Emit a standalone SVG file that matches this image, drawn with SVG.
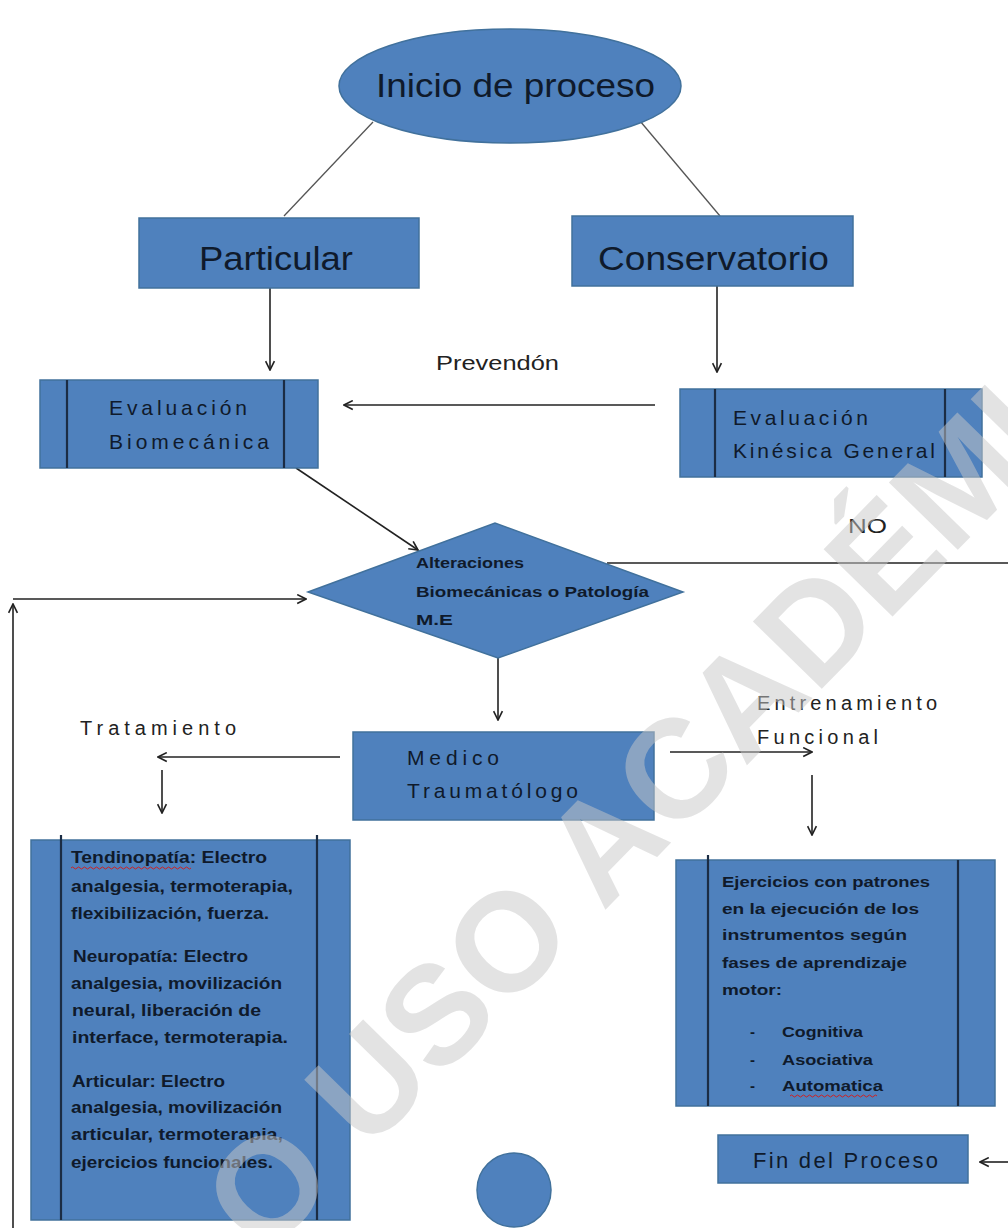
<svg xmlns="http://www.w3.org/2000/svg" width="1008" height="1228" viewBox="0 0 1008 1228">
<defs>
<style>
.node{fill:#4f81bd;stroke:#41719c;stroke-width:1.5}
.bar{stroke:#1b2c44;stroke-width:2.2}
.t{font-family:"Liberation Sans",Arial,sans-serif;fill:#0f1a2b}
.big{font-size:34px}
.mid{font-size:21px}
.lbl{font-family:"Liberation Sans",Arial,sans-serif;fill:#222;font-size:20px}
.body{font-family:"Liberation Sans",Arial,sans-serif;fill:#0f1a2b;font-size:16px;font-weight:bold}
.con{fill:none;stroke:#222;stroke-width:1.6}
.thin{fill:none;stroke:#555;stroke-width:1.3}
.sq{fill:none;stroke:#d02020;stroke-width:1}
.wm{font-family:"Liberation Sans",Arial,sans-serif;font-weight:bold;font-size:140px;fill:#c8c8c8;opacity:0.5}
</style>
<marker id="arr" viewBox="0 0 10 10" refX="9" refY="5" markerWidth="11" markerHeight="11" markerUnits="userSpaceOnUse" orient="auto">
<path d="M1,1 L9,5 L1,9" fill="none" stroke="#222" stroke-width="1.5"/>
</marker>
</defs>
<rect width="1008" height="1228" fill="#ffffff"/>

<g id="connectors">
<line class="thin" x1="373" y1="122" x2="284" y2="216"/>
<line class="thin" x1="640" y1="121" x2="720" y2="216"/>
<line class="con" x1="270" y1="288" x2="270" y2="370" marker-end="url(#arr)"/>
<line class="con" x1="717" y1="286" x2="717" y2="372" marker-end="url(#arr)"/>
<line class="con" x1="655" y1="405" x2="344" y2="405" marker-end="url(#arr)"/>
<line class="con" x1="296" y1="468" x2="418" y2="550" marker-end="url(#arr)"/>
<line class="con" x1="607" y1="563" x2="1008" y2="563"/>
<line class="con" x1="13" y1="1228" x2="13" y2="604" marker-end="url(#arr)"/>
<line class="con" x1="13" y1="599" x2="306" y2="599" marker-end="url(#arr)"/>
<line class="con" x1="498" y1="658" x2="498" y2="720" marker-end="url(#arr)"/>
<line class="con" x1="340" y1="757" x2="158" y2="757" marker-end="url(#arr)"/>
<line class="con" x1="162" y1="770" x2="162" y2="813" marker-end="url(#arr)"/>
<line class="con" x1="670" y1="752" x2="812" y2="752" marker-end="url(#arr)"/>
<line class="con" x1="812" y1="775" x2="812" y2="835" marker-end="url(#arr)"/>
<line class="con" x1="1008" y1="1162" x2="980" y2="1162" marker-end="url(#arr)"/>
<text class="lbl" x="436" y="370" textLength="123" lengthAdjust="spacingAndGlyphs">Prevendón</text>
<text class="lbl" x="848" y="533" textLength="39" lengthAdjust="spacingAndGlyphs">NO</text>
<text class="lbl" x="80" y="735" textLength="156" lengthAdjust="spacing">Tratamiento</text>
<text class="lbl" x="757" y="710" textLength="180" lengthAdjust="spacing">Entrenamiento</text>
<text class="lbl" x="757" y="744" textLength="121" lengthAdjust="spacing">Funcional</text>
</g>

<g id="inicio">
<ellipse class="node" cx="510" cy="86" rx="171" ry="57"/>
<text class="t big" x="376" y="97" textLength="279" lengthAdjust="spacingAndGlyphs">Inicio de proceso</text>
</g>

<g id="particular">
<rect class="node" x="139" y="218" width="280" height="70"/>
<text class="t big" x="199" y="270" textLength="154" lengthAdjust="spacingAndGlyphs">Particular</text>
</g>

<g id="conservatorio">
<rect class="node" x="572" y="216" width="281" height="70"/>
<text class="t big" x="598" y="270" textLength="231" lengthAdjust="spacingAndGlyphs">Conservatorio</text>
</g>

<g id="eval-biomecanica">
<rect class="node" x="40" y="380" width="278" height="88"/>
<line class="bar" x1="67" y1="380" x2="67" y2="468"/>
<line class="bar" x1="284" y1="380" x2="284" y2="468"/>
<text class="t mid" x="109" y="415" textLength="138" lengthAdjust="spacing">Evaluación</text>
<text class="t mid" x="109" y="449" textLength="160" lengthAdjust="spacing">Biomecánica</text>
</g>

<g id="eval-kinesica">
<rect class="node" x="680" y="389" width="302" height="88"/>
<line class="bar" x1="715" y1="389" x2="715" y2="477"/>
<line class="bar" x1="945" y1="389" x2="945" y2="477"/>
<text class="t mid" x="733" y="425" textLength="135" lengthAdjust="spacing">Evaluación</text>
<text class="t mid" x="733" y="458" textLength="202" lengthAdjust="spacing">Kinésica General</text>
</g>

<g id="decision">
<polygon class="node" points="308,592 495,523 683,592 498,658"/>
<text class="body" style="font-size:14px" x="416" y="568" textLength="108" lengthAdjust="spacingAndGlyphs">Alteraciones</text>
<text class="body" style="font-size:14px" x="416" y="597" textLength="233" lengthAdjust="spacingAndGlyphs">Biomecánicas  o Patología</text>
<text class="body" style="font-size:14px" x="416" y="625" textLength="37" lengthAdjust="spacingAndGlyphs">M.E</text>
</g>

<g id="medico">
<rect class="node" x="353" y="732" width="301" height="88"/>
<text class="t mid" x="407" y="765" textLength="92" lengthAdjust="spacing">Medico</text>
<text class="t mid" x="407" y="798" textLength="171" lengthAdjust="spacing">Traumatólogo</text>
</g>

<g id="tratamiento">
<rect class="node" x="31" y="840" width="319" height="380"/>
<line class="bar" x1="61" y1="835" x2="61" y2="1220"/>
<line class="bar" x1="317" y1="835" x2="317" y2="1220"/>
<text class="body" x="71" y="863" textLength="196" lengthAdjust="spacingAndGlyphs">Tendinopatía: Electro</text>
<text class="body" x="71" y="892" textLength="222" lengthAdjust="spacingAndGlyphs">analgesia, termoterapia,</text>
<text class="body" x="71" y="919" textLength="198" lengthAdjust="spacingAndGlyphs">flexibilización, fuerza.</text>
<text class="body" x="73" y="962" textLength="175" lengthAdjust="spacingAndGlyphs">Neuropatía: Electro</text>
<text class="body" x="71" y="989" textLength="211" lengthAdjust="spacingAndGlyphs">analgesia, movilización</text>
<text class="body" x="72" y="1016" textLength="189" lengthAdjust="spacingAndGlyphs">neural, liberación de</text>
<text class="body" x="72" y="1043" textLength="216" lengthAdjust="spacingAndGlyphs">interface, termoterapia.</text>
<text class="body" x="72" y="1087" textLength="153" lengthAdjust="spacingAndGlyphs">Articular: Electro</text>
<text class="body" x="71" y="1113" textLength="211" lengthAdjust="spacingAndGlyphs">analgesia, movilización</text>
<text class="body" x="71" y="1140" textLength="212" lengthAdjust="spacingAndGlyphs">articular, termoterapia,</text>
<text class="body" x="71" y="1168" textLength="202" lengthAdjust="spacingAndGlyphs">ejercicios funcionales.</text>
<path class="sq" d="M71 868 q1.5 -2 3 0 t3 0 t3 0 t3 0 t3 0 t3 0 t3 0 t3 0 t3 0 t3 0 t3 0 t3 0 t3 0 t3 0 t3 0 t3 0 t3 0 t3 0 t3 0 t3 0 t3 0 t3 0 t3 0 t3 0 t3 0 t3 0 t3 0 t3 0 t3 0 t3 0 t3 0 t3 0 t3 0 t3 0 t3 0 t3 0 t3 0 t3 0 t3 0 t3 0"/>
</g>

<g id="entrenamiento">
<rect class="node" x="676" y="860" width="319" height="246"/>
<line class="bar" x1="708" y1="855" x2="708" y2="1106"/>
<line class="bar" x1="958" y1="860" x2="958" y2="1106"/>
<text class="body" style="font-size:15px" x="722" y="887" textLength="208" lengthAdjust="spacingAndGlyphs">Ejercicios con patrones</text>
<text class="body" style="font-size:15px" x="722" y="914" textLength="197" lengthAdjust="spacingAndGlyphs">en la ejecución de los</text>
<text class="body" style="font-size:15px" x="722" y="940" textLength="185" lengthAdjust="spacingAndGlyphs">instrumentos según</text>
<text class="body" style="font-size:15px" x="722" y="968" textLength="185" lengthAdjust="spacingAndGlyphs">fases de aprendizaje</text>
<text class="body" style="font-size:15px" x="722" y="995" textLength="60" lengthAdjust="spacingAndGlyphs">motor:</text>
<text class="body" style="font-size:15px" x="750" y="1037">-</text>
<text class="body" style="font-size:15px" x="782" y="1037" textLength="81" lengthAdjust="spacingAndGlyphs">Cognitiva</text>
<text class="body" style="font-size:15px" x="750" y="1065">-</text>
<text class="body" style="font-size:15px" x="782" y="1065" textLength="91" lengthAdjust="spacingAndGlyphs">Asociativa</text>
<text class="body" style="font-size:15px" x="750" y="1091">-</text>
<text class="body" style="font-size:15px" x="782" y="1091" textLength="101" lengthAdjust="spacingAndGlyphs">Automatica</text>
<path class="sq" d="M790 1096 q1.5 -2 3 0 t3 0 t3 0 t3 0 t3 0 t3 0 t3 0 t3 0 t3 0 t3 0 t3 0 t3 0 t3 0 t3 0 t3 0 t3 0 t3 0 t3 0 t3 0 t3 0 t3 0 t3 0 t3 0 t3 0 t3 0 t3 0 t3 0 t3 0 t3 0"/>
</g>

<g id="fin">
<rect class="node" x="718" y="1135" width="250" height="48"/>
<text class="t" style="font-size:22px" x="753" y="1168" textLength="185" lengthAdjust="spacing">Fin del Proceso</text>
</g>

<g id="conector-circulo">
<circle class="node" cx="514" cy="1190" r="37"/>
</g>

<g id="watermark">
<text class="wm" transform="translate(266,1185) rotate(-45.6)" x="-342" y="50">SOLO USO ACADÉMICO</text>
</g>
</svg>
